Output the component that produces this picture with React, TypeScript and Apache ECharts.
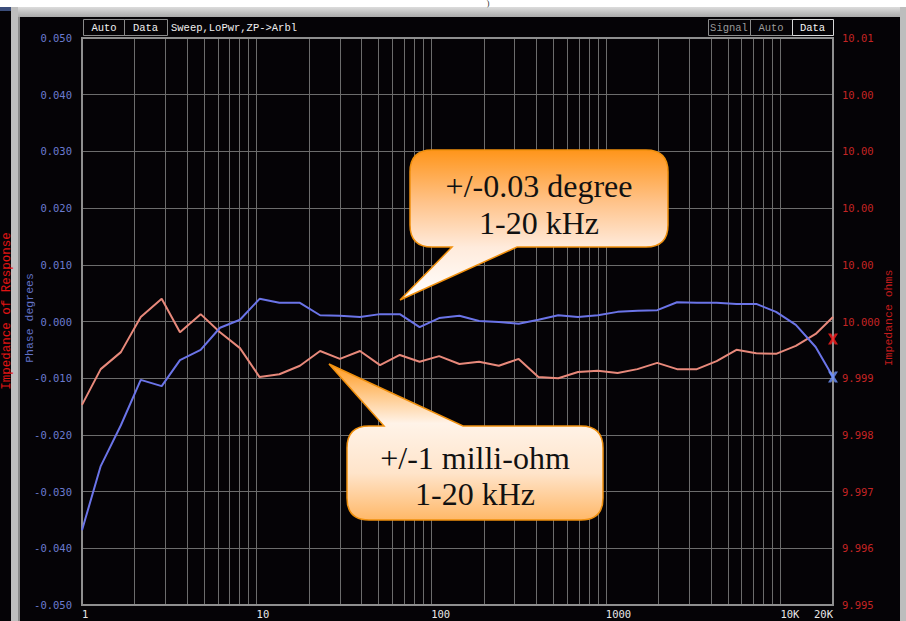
import React, { useEffect, useRef } from "react";
import * as echarts from "echarts";

// Sweep frequencies (Hz), read from the plotted points
const frequencies = [
  1, 1.28, 1.67, 2.17, 2.86, 3.64, 4.78, 6.17, 8.03, 10.4, 13.5, 17.7, 23.1, 30.0, 39.1, 50.9,
  66.1, 85.8, 111, 145, 188, 244, 317, 411, 534, 693, 900, 1168, 1517, 1970, 2557, 3320, 4311,
  5598, 7268, 9437, 12253, 15909, 20000,
];

// Phase (degrees), left axis
const phaseDeg = [
  -0.0368, -0.0255, -0.0183, -0.0103, -0.0114, -0.0068, -0.005, -0.0011, 0.0003, 0.004, 0.0033,
  0.0033, 0.0011, 0.001, 0.0008, 0.0013, 0.0013, -0.001, 0.0006, 0.001, 0.0001, -0.0001, -0.0004,
  0.0003, 0.0011, 0.0008, 0.0011, 0.0017, 0.0019, 0.002, 0.0034, 0.0033, 0.0033, 0.0031, 0.0031,
  0.0017, -0.0006, -0.0045, -0.0098,
];

// Impedance (ohms), right axis
const impedanceOhm = [
  9.99853, 9.99916, 9.99946, 10.00008, 10.0004, 9.99981, 10.00013, 9.99981, 9.99953, 9.99902,
  9.99907, 9.99922, 9.99948, 9.99934, 9.99948, 9.99923, 9.99941, 9.99929, 9.99939, 9.99925,
  9.99929, 9.99922, 9.99934, 9.99902, 9.999, 9.99911, 9.99913, 9.99909, 9.99916, 9.99927,
  9.99916, 9.99916, 9.9993, 9.9995, 9.99944, 9.99943, 9.99957, 9.99978, 10.00008,
];

// Cursor markers at the right edge
const cursorFreq = 20000;
const cursorPhase = -0.0098;
const cursorImpedance = 9.99969;

// Vertical grid lines (Hz)
const gridFreqs = [
  2, 3, 4, 5, 6, 7, 8, 9, 10, 20, 30, 40, 50, 60, 70, 80, 90, 100, 200, 300, 400, 500, 600, 700,
  800, 900, 1000, 2000, 3000, 4000, 5000, 6000, 7000, 8000, 9000, 10000,
];

// Tick labels
const xTickValues = [1, 10, 100, 1000, 10000, 20000];
const xTickLabels = ["1", "10", "100", "1000", "10K", "20K"];
const rightTickLabels = [
  "9.995", "9.996", "9.997", "9.998", "9.999", "10.000", "10.00", "10.00", "10.00", "10.00", "10.01",
];

const callout1Path =
  "M432,150 H646 Q668,150 668,172 V225 Q668,247 646,247 H517 L400,300 L452,247 H432 Q410,247 410,225 V172 Q410,150 432,150 Z";
const callout2Path =
  "M369,426 H384 L329,364 L463,426 H581 Q603,426 603,448 V498 Q603,520 581,520 H369 Q347,520 347,498 V448 Q347,426 369,426 Z";

let shapesRegistered = false;
function registerShapes() {
  if (shapesRegistered) return;
  echarts.graphic.registerShape("callout1", echarts.graphic.extendPath(callout1Path, {}));
  echarts.graphic.registerShape("callout2", echarts.graphic.extendPath(callout2Path, {}));
  shapesRegistered = true;
}

const MONO = "'Liberation Mono', 'DejaVu Sans Mono', monospace";
const NUM = "'DejaVu Sans Mono', 'Liberation Mono', monospace";
const SERIF = "'Liberation Serif', 'DejaVu Serif', serif";

function txt(text: string, x: number, y: number, fill: string, font: string, align = "center", rotation = 0, z = 10) {
  return {
    type: "text",
    x,
    y,
    rotation,
    z,
    silent: true,
    style: {
      text,
      fill,
      font,
      align,
      textAlign: align,
      verticalAlign: "middle",
      textVerticalAlign: "middle",
    },
  };
}

function box(x: number, y: number, w: number, h: number, stroke: string) {
  return {
    type: "rect",
    shape: { x: x + 0.5, y: y + 0.5, width: w, height: h },
    silent: true,
    z: 10,
    style: { fill: "transparent", stroke, lineWidth: 1 },
  };
}

export default function App() {
  const ref = useRef<HTMLDivElement>(null);

  useEffect(() => {
    document.body.style.margin = "0";
    registerShapes();
    const chart = echarts.init(ref.current!, null, { renderer: "svg" });

    const phaseData = frequencies.map((f, i) => [f, phaseDeg[i]]);
    const impData = frequencies.map((f, i) => [f, impedanceOhm[i]]);
    const xSymbol =
      "path://M0,0 L3.2,0 L5,3 L6.8,0 L10,0 L6.6,5 L10,10 L6.8,10 L5,7 L3.2,10 L0,10 L3.4,5 Z";

    const option: any = {
      animation: false,
      backgroundColor: "#050306",
      grid: {
        left: 82,
        top: 38,
        right: 73,
        bottom: 16,
        show: true,
        borderColor: "#8f8f8f",
        borderWidth: 2,
        backgroundColor: "transparent",
        z: 3,
      },
      xAxis: {
        type: "log",
        logBase: 10,
        min: 1,
        max: 20000,
        axisLine: { show: false },
        axisTick: { show: false },
        splitLine: { show: false },
        axisLabel: {
          color: "#e8e8e8",
          fontFamily: NUM,
          fontSize: 10.5,
          margin: 3,
          align: "left",
          alignMaxLabel: "right",
          formatter: (v: number) => {
            for (let i = 0; i < xTickValues.length; i++) {
              if (Math.abs(v - xTickValues[i]) / xTickValues[i] < 1e-3) return xTickLabels[i];
            }
            return "";
          },
        },
      },
      yAxis: [
        {
          type: "value",
          position: "left",
          min: -0.05,
          max: 0.05,
          interval: 0.01,
          axisLine: { show: false },
          axisTick: { show: false },
          splitLine: { show: true, lineStyle: { color: "#6c6c6c", width: 1 } },
          axisLabel: {
            color: "#6b7bd0",
            fontFamily: NUM,
            fontSize: 10.5,
            margin: 10,
            formatter: (v: number) => (Math.abs(v) < 1e-9 ? "0.000" : v.toFixed(3)),
          },
        },
        {
          type: "value",
          position: "right",
          min: 9.995,
          max: 10.005,
          interval: 0.001,
          axisLine: { show: false },
          axisTick: { show: false },
          splitLine: { show: false },
          axisLabel: {
            color: "#c42424",
            fontFamily: NUM,
            fontSize: 10.5,
            margin: 9,
            formatter: (v: number) => {
              const idx = Math.round((v - 9.995) / 0.001);
              return rightTickLabels[idx] ?? "";
            },
          },
        },
      ],
      series: [
        {
          type: "line",
          yAxisIndex: 0,
          data: [[1, 0]],
          symbol: "none",
          lineStyle: { opacity: 0 },
          silent: true,
          z: 1,
          markLine: {
            silent: true,
            z: 1,
            symbol: ["none", "none"],
            label: { show: false },
            emphasis: { disabled: true },
            lineStyle: { color: "#6c6c6c", width: 1, type: "solid" },
            data: gridFreqs.map((f) => ({ xAxis: f })),
          },
        },
        {
          name: "Impedance",
          type: "line",
          yAxisIndex: 1,
          data: impData,
          symbol: "none",
          showSymbol: false,
          z: 4,
          lineStyle: { color: "#e8897b", width: 2 },
        },
        {
          name: "Phase",
          type: "line",
          yAxisIndex: 0,
          data: phaseData,
          symbol: "none",
          showSymbol: false,
          z: 5,
          lineStyle: { color: "#6b74e8", width: 2 },
        },
        {
          type: "scatter",
          yAxisIndex: 1,
          clip: false,
          z: 6,
          symbol: xSymbol,
          symbolSize: [10, 11],
          itemStyle: { color: "#ff1e1e" },
          data: [[cursorFreq, cursorImpedance]],
        },
        {
          type: "scatter",
          yAxisIndex: 0,
          clip: false,
          z: 6,
          symbol: xSymbol,
          symbolSize: [10, 11],
          itemStyle: { color: "#6f95ff" },
          data: [[cursorFreq, cursorPhase]],
        },
      ],
      graphic: [
        // window frame
        { type: "rect", shape: { x: 0, y: 0, width: 906, height: 7 }, style: { fill: "#ffffff" }, silent: true, z: 1 },
        { type: "rect", shape: { x: 0, y: 7, width: 11, height: 4 }, style: { fill: "#3b4d7a" }, silent: true, z: 1 },
        {
          type: "rect",
          shape: { x: 11, y: 7, width: 895, height: 10 },
          style: {
            fill: new echarts.graphic.LinearGradient(0, 0, 0, 1, [
              { offset: 0, color: "#dcdcdc" },
              { offset: 1, color: "#a9a9a9" },
            ]),
          },
          silent: true,
          z: 1,
        },
        { type: "rect", shape: { x: 11, y: 7, width: 7, height: 614 }, style: { fill: "#bebebe" }, silent: true, z: 1 },
        { type: "rect", shape: { x: 18, y: 17, width: 2, height: 604 }, style: { fill: "#8a8a8a" }, silent: true, z: 1 },
        { type: "rect", shape: { x: 900, y: 7, width: 6, height: 614 }, style: { fill: "#bdbdbd" }, silent: true, z: 1 },
        txt(")", 488, 3.5, "#222222", `8px ${SERIF}`, "center", 0, 2),
        // header buttons
        box(83, 19, 41, 16, "#8a8a8a"),
        txt("Auto", 104, 27.5, "#f0f0f0", `10.5px ${MONO}`),
        box(124, 19, 43, 16, "#8a8a8a"),
        txt("Data", 145.5, 27.5, "#f0f0f0", `10.5px ${MONO}`),
        txt("Sweep,LoPwr,ZP->Arbl", 171, 27.5, "#f0f0f0", `10.5px ${MONO}`, "left"),
        box(708, 19, 42, 16, "#8a8a8a"),
        txt("Signal", 729, 27.5, "#9a9a9a", `10.5px ${MONO}`),
        box(750, 19, 42, 16, "#8a8a8a"),
        txt("Auto", 771, 27.5, "#9a9a9a", `10.5px ${MONO}`),
        box(792, 19, 41, 16, "#d8d8d8"),
        txt("Data", 812.5, 27.5, "#f4f4f4", `10.5px ${MONO}`),
        // axis titles
        txt("Impedance of Response", 6.5, 311, "#e01414", `12.5px ${MONO}`, "center", Math.PI / 2),
        txt("Phase degrees", 29, 318, "#6272c8", `11.5px ${MONO}`, "center", Math.PI / 2),
        txt("Impedance ohms", 888, 318, "#c41c1c", `11.5px ${MONO}`, "center", Math.PI / 2),
        // callouts
        {
          type: "callout1",
          x: 0,
          y: 0,
          z: 50,
          silent: true,
          style: {
            fill: new echarts.graphic.LinearGradient(0, 0, 0, 1, [
              { offset: 0, color: "#ff951a" },
              { offset: 0.35, color: "#ffc38a" },
              { offset: 0.65, color: "#ffebdc" },
              { offset: 1, color: "#ffffff" },
            ]),
            stroke: "#f0900e",
            lineWidth: 1.5,
          },
        },
        txt("+/-0.03 degree", 539, 186, "#111111", `32px ${SERIF}`, "center", 0, 51),
        txt("1-20 kHz", 539, 223, "#111111", `32px ${SERIF}`, "center", 0, 51),
        {
          type: "callout2",
          x: 0,
          y: 0,
          z: 50,
          silent: true,
          style: {
            fill: new echarts.graphic.LinearGradient(0, 0, 0, 1, [
              { offset: 0, color: "#ff9a1f" },
              { offset: 0.38, color: "#fff3e8" },
              { offset: 0.7, color: "#ffe4ca" },
              { offset: 1, color: "#ffb868" },
            ]),
            stroke: "#f0900e",
            lineWidth: 1.5,
          },
        },
        txt("+/-1 milli-ohm", 475, 458, "#111111", `32px ${SERIF}`, "center", 0, 51),
        txt("1-20 kHz", 475, 494, "#111111", `32px ${SERIF}`, "center", 0, 51),
      ],
    };

    chart.setOption(option);
    return () => {
      chart.dispose();
    };
  }, []);

  return <div ref={ref} style={{ width: 906, height: 621 }} />;
}
